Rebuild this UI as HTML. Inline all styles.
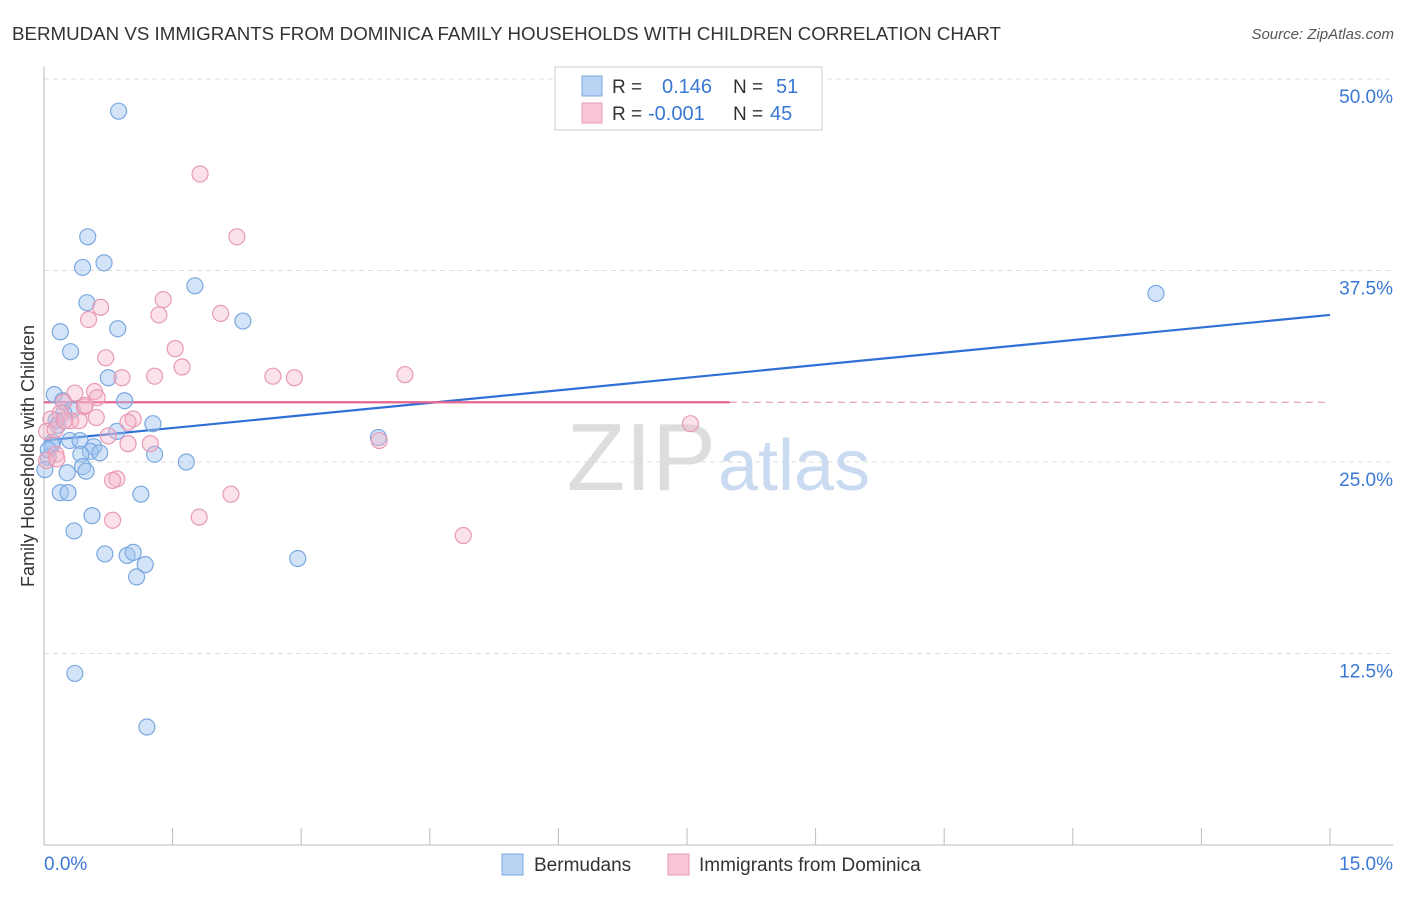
<!DOCTYPE html>
<html><head><meta charset="utf-8"><style>
body{margin:0;background:#fff;font-family:"Liberation Sans",sans-serif;}
svg text{font-family:"Liberation Sans",sans-serif;}
</style></head><body>
<svg id="chart" width="1406" height="892" xmlns="http://www.w3.org/2000/svg">
<text x="12" y="40" font-size="18" fill="#333" textLength="989" lengthAdjust="spacingAndGlyphs">BERMUDAN VS IMMIGRANTS FROM DOMINICA FAMILY HOUSEHOLDS WITH CHILDREN CORRELATION CHART</text>
<text x="1394" y="39" font-size="15" fill="#555" font-style="italic" text-anchor="end">Source: ZipAtlas.com</text>
<g id="grid"></g>
<g id="axes"></g>
<text x="716" y="490" font-size="96" fill="#ddd" font-family="Liberation Serif" text-anchor="end">ZIP</text>
<text x="718" y="490" font-size="72" fill="#c9daf1">atlas</text>
<text transform="translate(34,456) rotate(-90)" font-size="18" fill="#333" text-anchor="middle">Family Households with Children</text>
<g id="lines"></g>
<g id="points"></g>
<g>
<rect x="555" y="67" width="267" height="63" fill="#fff" stroke="#ccc"/>
<rect x="582" y="76" width="20" height="20" fill="#b9d3f5" stroke="#7aa8e0"/>
<rect x="582" y="103" width="20" height="20" fill="#f9c6d5" stroke="#e89ab4"/>
<text x="612" y="93" font-size="19" fill="#333">R =</text><text x="662" y="93" font-size="20" fill="#3a78d4">0.146</text>
<text x="733" y="93" font-size="19" fill="#333">N =</text><text x="776" y="93" font-size="20" fill="#3a78d4">51</text>
<text x="612" y="120" font-size="19" fill="#333">R =</text><text x="648" y="120" font-size="20" fill="#3a78d4">-0.001</text>
<text x="733" y="120" font-size="19" fill="#333">N =</text><text x="770" y="120" font-size="20" fill="#3a78d4">45</text>
</g>
<g>
<rect x="502" y="854" width="21" height="21" fill="#b9d3f5" stroke="#7aa8e0"/>
<text x="534" y="871" font-size="19" fill="#333">Bermudans</text>
<rect x="668" y="854" width="21" height="21" fill="#f9c6d5" stroke="#e89ab4"/>
<text x="699" y="871" font-size="19" fill="#333">Immigrants from Dominica</text>
</g>
</svg>
<script>
const yTicks=[12.5,25,37.5,50];
const yTickLabels=["12.5%","25.0%","37.5%","50.0%"];
const xTickCount=10;
const blueX=[0.87,0.51,0.45,0.70,1.76,0.50,2.32,0.19,0.86,0.31,0.75,0.12,0.94,0.22,0.33,0.23,0.14,1.27,0.85,3.90,0.10,0.30,0.42,0.58,0.54,0.43,1.29,1.66,0.45,0.05,0.49,0.27,0.19,0.28,1.13,0.56,0.35,0.71,0.97,1.04,1.18,1.08,2.96,12.97,0.36,1.20,0.09,0.16,0.01,0.05,0.65];
const blueY=[47.9,39.7,37.7,38.0,36.5,35.4,34.2,33.5,33.7,32.2,30.5,29.4,29.0,29.0,28.4,28.2,27.7,27.5,27.0,26.6,26.3,26.4,26.4,26.0,25.7,25.5,25.5,25.0,24.7,25.3,24.4,24.3,23.0,23.0,22.9,21.5,20.5,19.0,18.9,19.1,18.3,17.5,18.7,36.0,11.2,7.7,26.1,27.4,24.5,25.8,25.6];
const pinkX=[1.82,2.25,1.39,0.66,1.34,2.06,0.52,1.53,0.72,1.61,1.29,0.91,2.67,2.92,4.21,0.59,0.36,0.62,0.23,0.47,0.19,0.61,0.31,0.41,0.08,1.04,0.98,0.75,0.03,1.24,0.98,3.91,0.14,0.03,0.85,0.80,2.18,0.80,1.81,4.89,7.54,0.48,0.13,0.24,0.15];
const pinkY=[43.8,39.7,35.6,35.1,34.6,34.7,34.3,32.4,31.8,31.2,30.6,30.5,30.6,30.5,30.7,29.6,29.5,29.2,28.9,28.6,28.2,27.9,27.7,27.7,27.8,27.8,27.6,26.7,27.0,26.2,26.2,26.4,25.5,25.1,23.9,23.8,22.9,21.2,21.4,20.2,27.5,28.7,27.1,27.7,25.2];
const blueTrend=[26.4,34.6];
const pinkTrend=[28.9,28.9];
const pinkSolidEnd=8.0;
const X0=44,X1=1330,Y0=845,Y50=79;
const sx=v=>X0+(X1-X0)*v/15;
const sy=v=>Y0-(Y0-Y50)*v/50;
const NS="http://www.w3.org/2000/svg";
function mk(t,a,p){const e=document.createElementNS(NS,t);for(const k in a)e.setAttribute(k,a[k]);p.appendChild(e);return e;}
const grid=document.getElementById('grid'),axes=document.getElementById('axes');
yTicks.forEach((t,i)=>{
 const l=mk('line',{x1:44,x2:1393,y1:sy(t),y2:sy(t),stroke:'#ddd','stroke-dasharray':'5,4'},grid);
 
 
 const tx=mk('text',{x:1393,y:sy(t)+24,'font-size':19,fill:'#3a78d4','text-anchor':'end'},axes);
 tx.textContent=yTickLabels[i];
 
 
});
mk('line',{x1:44,x2:44,y1:67,y2:845,stroke:'#bbb'},axes);
mk('line',{x1:44,x2:1393,y1:845,y2:845,stroke:'#bbb'},axes);
for(let i=0;i<=xTickCount;i++){const x=sx(15*i/xTickCount);const t=mk('line',{x1:x,x2:x,y1:828,y2:845,stroke:'#bbb'},axes);}
let a=mk('text',{x:44,y:870,'font-size':19,fill:'#3a78d4'},axes);a.textContent='0.0%';
a=mk('text',{x:1393,y:870,'font-size':19,fill:'#3a78d4','text-anchor':'end'},axes);a.textContent='15.0%';
const pts=document.getElementById('points');
blueX.forEach((v,i)=>{const c=mk('circle',{cx:sx(v),cy:sy(blueY[i]),r:8,fill:'rgba(160,195,240,0.45)',stroke:'#7aa8e0','stroke-width':1.2},pts);});
pinkX.forEach((v,i)=>{const c=mk('circle',{cx:sx(v),cy:sy(pinkY[i]),r:8,fill:'rgba(245,180,200,0.4)',stroke:'#e89ab4','stroke-width':1.2},pts);});
const ln=document.getElementById('lines');
let l=mk('line',{x1:sx(0),x2:sx(15),y1:sy(blueTrend[0]),y2:sy(blueTrend[1]),stroke:'#2f6fd6','stroke-width':2.2},ln);

const pm=pinkTrend[0]+(pinkTrend[1]-pinkTrend[0])*pinkSolidEnd/15;
l=mk('line',{x1:sx(0),x2:sx(pinkSolidEnd),y1:sy(pinkTrend[0]),y2:sy(pm),stroke:'#e5658f','stroke-width':2.2},ln);

l=mk('line',{x1:sx(pinkSolidEnd),x2:sx(15),y1:sy(pm),y2:sy(pinkTrend[1]),stroke:'#e5a0b8','stroke-width':1.2,'stroke-dasharray':'7,5'},ln);

</script>
</body></html>
